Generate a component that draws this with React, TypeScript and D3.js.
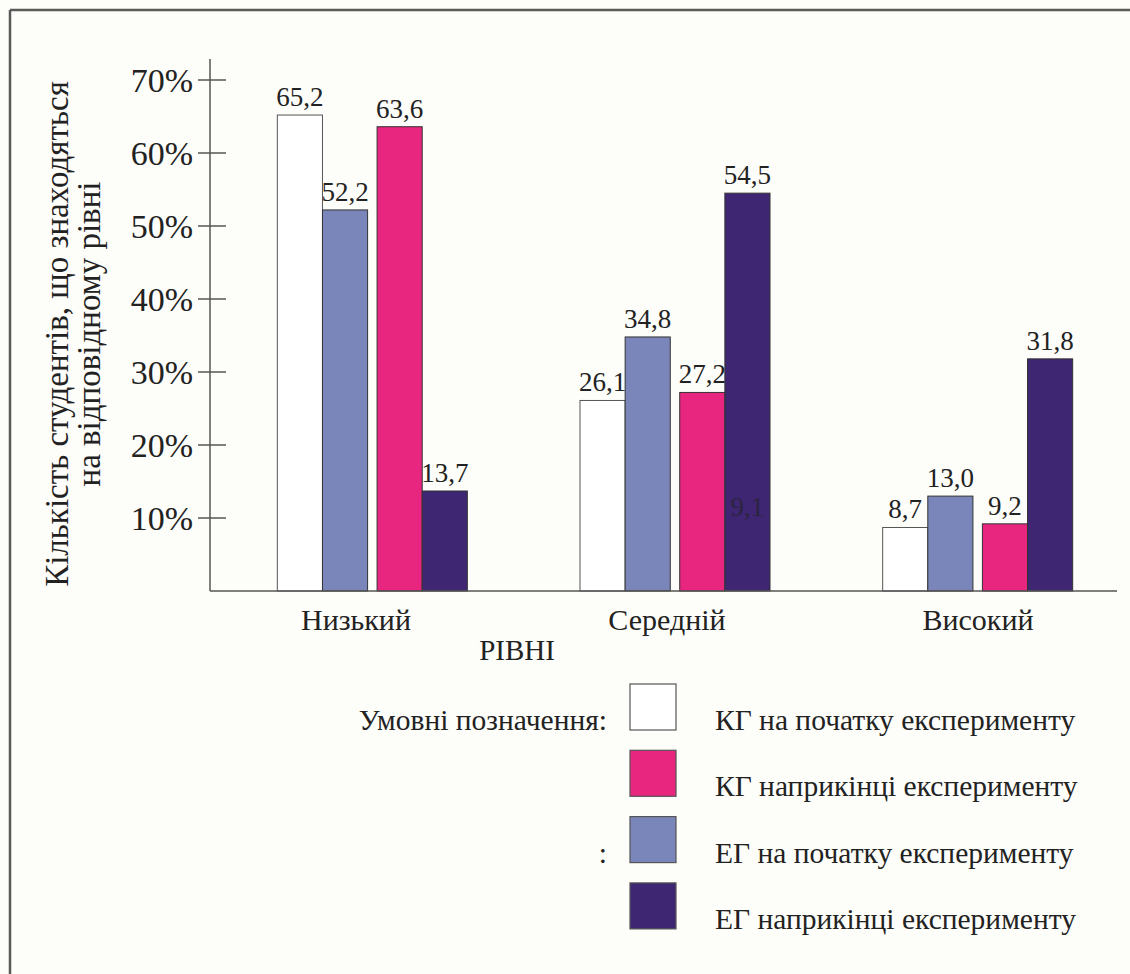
import React from "react";
import * as d3 from "d3";

const categories = ["Низький", "Середній", "Високий"];
const seriesNames = [
  "КГ на початку експерименту",
  "ЕГ на початку експерименту",
  "КГ наприкінці експерименту",
  "ЕГ наприкінці експерименту",
];
const seriesColors = ["#ffffff", "#7a86ba", "#e8267f", "#3f2673"];
const kgStart = [65.2, 26.1, 8.7];
const egStart = [52.2, 34.8, 13.0];
const kgEnd = [63.6, 27.2, 9.2];
const egEnd = [13.7, 54.5, 31.8];
const seriesValues = [kgStart, egStart, kgEnd, egEnd];
const yTicks = [10, 20, 30, 40, 50, 60, 70];
const legendOrder = [0, 2, 1, 3];
// stray label visible inside the dark bar of "Середній"
const strayLabels = [{ category: "Середній", series: 3, value: 9.1 }];

const fmt = (v: number) => v.toFixed(1).replace(".", ",");

export default function App() {
  const W = 1130;
  const H = 974;
  const axisX = 210;
  const baseY = 591;
  const axisRight = 1117;
  const font = '"Liberation Serif", "DejaVu Serif", "Times New Roman", serif';
  const ink = "#222";

  const y = d3.scaleLinear().domain([0, 70]).range([baseY, 80]);
  const x0 = d3.scaleBand().domain(categories).range([221, 1129]).padding(0);
  const pair = d3.scaleBand<number>().domain([0, 1]).range([-95, 95]).paddingInner(0.095);
  const inPair = d3.scaleBand<number>().domain([0, 1]).range([0, pair.bandwidth()]);
  const barX = (ci: number, si: number) =>
    (x0(categories[ci]) as number) + x0.bandwidth() / 2 + (pair(Math.floor(si / 2)) as number) + (inPair(si % 2) as number);
  const bw = inPair.bandwidth();
  const labelX = d3.scalePoint().domain(categories).range([356, 978]);

  const legendY = d3.scaleLinear().domain([0, 1]).range([684, 750.3]);
  const T = { fontFamily: font } as React.CSSProperties;

  return (
    <svg width={W} height={H} style={{ position: "absolute", left: 0, top: 0, fontFamily: font }}>
      <rect x={0} y={0} width={W} height={H} fill="#fdfdf9" />
      <line x1={10} y1={10} x2={W} y2={10} stroke="#5a5a5a" strokeWidth={2.5} />
      <line x1={10} y1={10} x2={10} y2={H} stroke="#5a5a5a" strokeWidth={2.5} />

      <g transform={`translate(68, 334) rotate(-90)`}>
        <text style={T} textAnchor="middle" fontSize={33} fill={ink}>Кількість студентів, що знаходяться</text>
        <text style={T} y={32} textAnchor="middle" fontSize={33} fill={ink}>на відповідному рівні</text>
      </g>

      {seriesValues.map((vals, si) =>
        vals.map((v, ci) => (
          <rect
            key={`b${si}-${ci}`}
            x={barX(ci, si)}
            y={y(v)}
            width={bw}
            height={baseY - y(v)}
            fill={seriesColors[si]}
            stroke={si === 0 ? "#555" : "#333"}
            strokeWidth={1}
          />
        ))
      )}

      {seriesValues.map((vals, si) =>
        vals.map((v, ci) => (
          <text
            key={`l${si}-${ci}`}
            style={T}
            x={barX(ci, si) + bw / 2}
            y={y(v) - 9}
            textAnchor="middle"
            fontSize={27}
            fill={ink}
          >
            {fmt(v)}
          </text>
        ))
      )}
      {strayLabels.map((s, i) => (
        <text
          key={`s${i}`}
          style={T}
          x={barX(categories.indexOf(s.category), s.series) + bw / 2}
          y={y(s.value) - 9}
          textAnchor="middle"
          fontSize={27}
          fill="#2b2440"
        >
          {fmt(s.value)}
        </text>
      ))}

      <line x1={axisX} y1={59} x2={axisX} y2={baseY} stroke="#555" strokeWidth={1.5} />
      <line x1={axisX} y1={baseY} x2={axisRight} y2={baseY} stroke="#555" strokeWidth={1.5} />
      {yTicks.map((t) => (
        <g key={`t${t}`}>
          <line x1={198} x2={226} y1={y(t)} y2={y(t)} stroke="#555" strokeWidth={1.5} />
          <text style={T} x={193} y={y(t) + 12} textAnchor="end" fontSize={34} fill={ink}>
            {t}%
          </text>
        </g>
      ))}

      {categories.map((c) => (
        <text key={c} style={T} x={labelX(c)} y={630} textAnchor="middle" fontSize={30} fill={ink}>
          {c}
        </text>
      ))}
      <text style={T} x={517} y={660} textAnchor="middle" fontSize={29} fill={ink}>
        РІВНІ
      </text>

      <text style={T} x={607} y={legendY(0) + 46} textAnchor="end" fontSize={29.5} fill={ink}>
        Умовні позначення:
      </text>
      <text style={T} x={607} y={legendY(2) + 46} textAnchor="end" fontSize={29.5} fill={ink}>
        :
      </text>
      {legendOrder.map((si, i) => (
        <g key={`lg${si}`}>
          <rect x={630} y={legendY(i)} width={46} height={46} fill={seriesColors[si]} stroke="#555" strokeWidth={1.2} />
          <text style={T} x={715} y={legendY(i) + 46} fontSize={29.5} fill={ink}>
            {seriesNames[si]}
          </text>
        </g>
      ))}
    </svg>
  );
}
